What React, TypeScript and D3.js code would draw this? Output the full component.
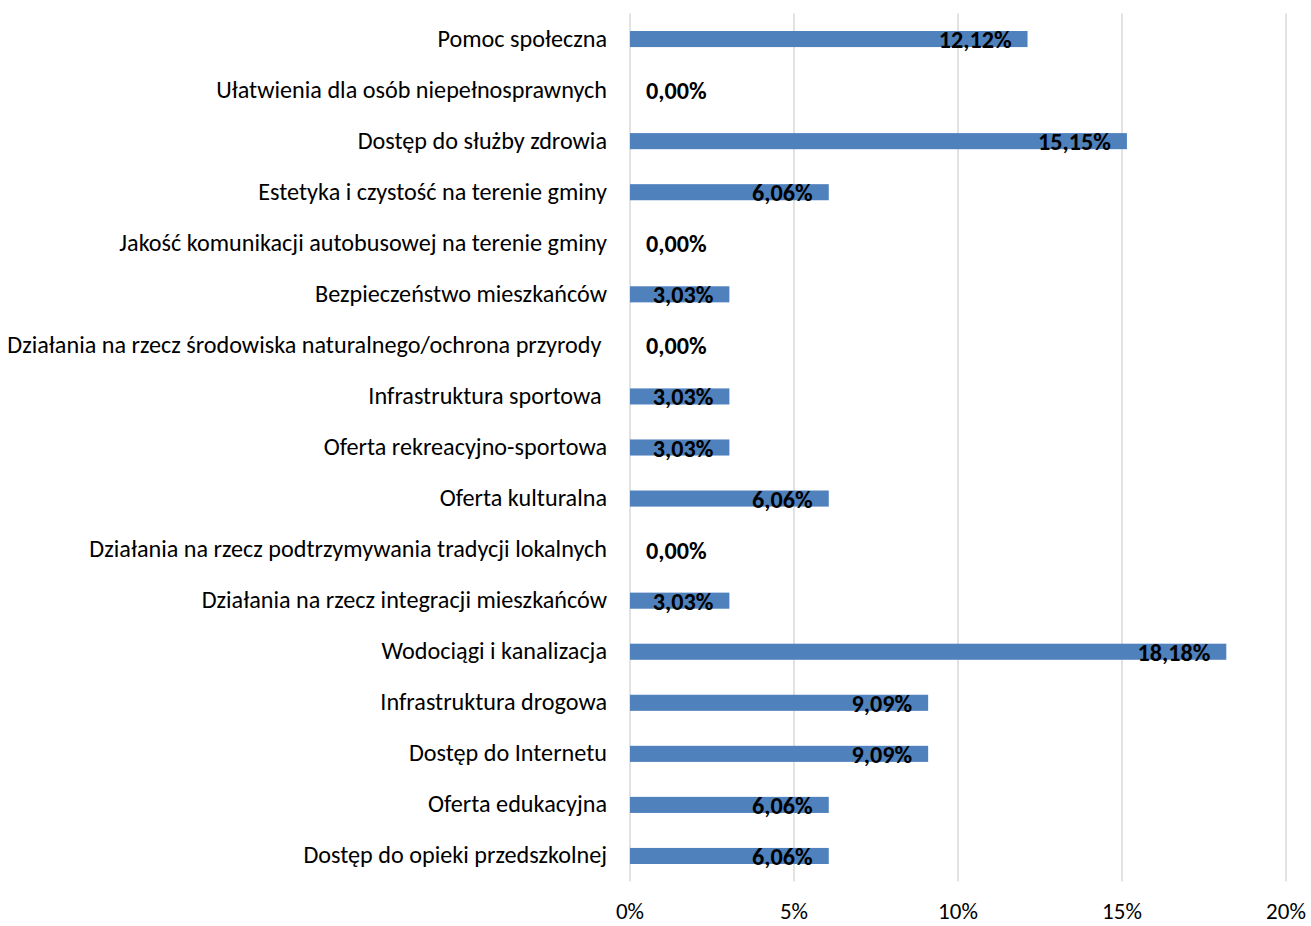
import React from "react";
import * as d3 from "d3";

const categories = [
  "Pomoc społeczna",
  "Ułatwienia dla osób niepełnosprawnych",
  "Dostęp do służby zdrowia",
  "Estetyka i czystość na terenie gminy",
  "Jakość komunikacji autobusowej na terenie gminy",
  "Bezpieczeństwo mieszkańców",
  "Działania na rzecz środowiska naturalnego/ochrona przyrody ",
  "Infrastruktura sportowa ",
  "Oferta rekreacyjno-sportowa",
  "Oferta kulturalna",
  "Działania na rzecz podtrzymywania tradycji lokalnych",
  "Działania na rzecz integracji mieszkańców",
  "Wodociągi i kanalizacja",
  "Infrastruktura drogowa",
  "Dostęp do Internetu",
  "Oferta edukacyjna",
  "Dostęp do opieki przedszkolnej",
];

const values = [12.12, 0, 15.15, 6.06, 0, 3.03, 0, 3.03, 3.03, 6.06, 0, 3.03, 18.18, 9.09, 9.09, 6.06, 6.06];

const ticks = [0, 5, 10, 15, 20];

const W = 1311;
const H = 926;
const margin = { left: 630, right: 25, top: 13.5, bottom: 44.5 };

export default function App() {
  const x = d3.scaleLinear().domain([0, 20]).range([margin.left, W - margin.right]);
  const y = d3
    .scaleBand<string>()
    .domain(categories)
    .range([margin.top, H - margin.bottom])
    .paddingInner(0.685)
    .paddingOuter(0.3425);
  const fmt = (v: number) => v.toFixed(2).replace(".", ",") + "%";
  const font = "Carlito, Calibri, 'Liberation Sans Narrow', 'Open Sans', sans-serif";
  const fs = 24.2;

  return (
    <svg
      width={W}
      height={H}
      style={{ position: "absolute", left: 0, top: 0, background: "#fff" }}
      fontFamily={font}
    >
      {ticks.map((t) => (
        <line
          key={"g" + t}
          x1={x(t)}
          x2={x(t)}
          y1={margin.top}
          y2={H - margin.bottom}
          stroke="#d9d9d9"
          strokeWidth={1.5}
        />
      ))}
      {categories.map((c, i) => {
        const yc = (y(c) as number) + y.bandwidth() / 2;
        const v = values[i];
        return (
          <g key={c}>
            <text
              x={607}
              y={yc - 1}
              textAnchor="end"
              dominantBaseline="central"
              fontSize={fs}
              fill="#000"
              style={{ whiteSpace: "pre" }}
            >
              {c}
            </text>
            {v > 0 && (
              <rect
                x={x(0)}
                y={y(c) as number}
                width={x(v) - x(0)}
                height={y.bandwidth()}
                fill="#4f81bd"
              />
            )}
            <text
              x={v > 0 ? x(v) - 16 : x(0) + 16}
              y={yc + 0.5}
              textAnchor={v > 0 ? "end" : "start"}
              dominantBaseline="central"
              fontSize={fs}
              fontWeight="bold"
              fill="#000"
            >
              {fmt(v)}
            </text>
          </g>
        );
      })}
      {ticks.map((t) => (
        <text
          key={"t" + t}
          x={x(t)}
          y={919}
          textAnchor="middle"
          fontSize={23}
          fill="#000"
        >
          {t + "%"}
        </text>
      ))}
    </svg>
  );
}
